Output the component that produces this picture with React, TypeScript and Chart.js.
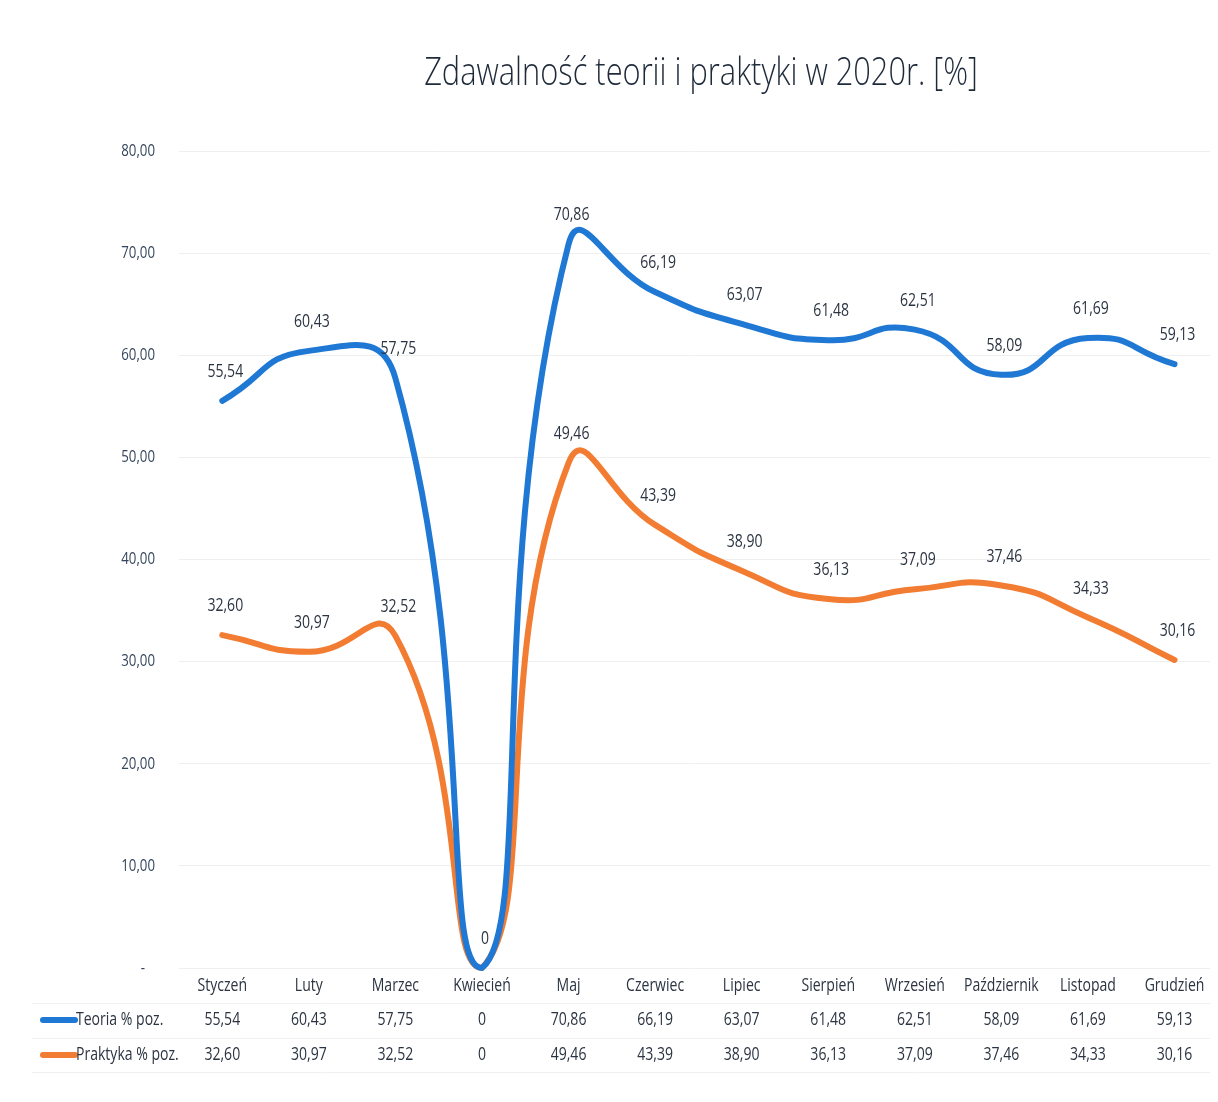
import React, { useEffect, useRef } from "react";
import { Chart, registerables } from "chart.js";

Chart.register(...registerables);

const TITLE = "Zdawalność teorii i praktyki w 2020r. [%]";
const MONTHS = ["Styczeń", "Luty", "Marzec", "Kwiecień", "Maj", "Czerwiec", "Lipiec", "Sierpień", "Wrzesień", "Październik", "Listopad", "Grudzień"];
const TEORIA = [55.54, 60.43, 57.75, 0, 70.86, 66.19, 63.07, 61.48, 62.51, 58.09, 61.69, 59.13];
const PRAKTYKA = [32.6, 30.97, 32.52, 0, 49.46, 43.39, 38.9, 36.13, 37.09, 37.46, 34.33, 30.16];
const SERIES_NAMES = ["Teoria % poz.", "Praktyka % poz."];
const COLORS = ["#1f78d4", "#f27c32"];
const Y_TICKS = [0, 10, 20, 30, 40, 50, 60, 70, 80];

const FONT = '"Open Sans", sans-serif';
const TEXT = "#2b3442";
const SX = 0.78;

const fmt = (v: number) => (v === 0 ? "0" : v.toFixed(2).replace(".", ","));

const W = 1202;
const H = 1086;

function txt(ctx: CanvasRenderingContext2D, s: string, x: number, y: number, align: CanvasTextAlign, sx = SX) {
  ctx.save();
  ctx.translate(x, y);
  ctx.scale(sx, 1);
  ctx.textAlign = align;
  ctx.textBaseline = "middle";
  ctx.fillText(s, 0, 0);
  ctx.restore();
}

export default function App() {
  const ref = useRef<HTMLCanvasElement>(null);
  useEffect(() => {
    if (!ref.current) return;
    const seriesData = [TEORIA, PRAKTYKA];

    const titlePlugin = {
      id: "titleP",
      afterDraw(chart: any) {
        const ctx = chart.ctx;
        ctx.save();
        ctx.fillStyle = "#1e2a3a";
        ctx.font = `300 39px ${FONT}`;
        txt(ctx, TITLE, 693, 66, "center", 0.79);
        ctx.restore();
      },
    };

    const yLabelPlugin = {
      id: "yLabelsP",
      afterDraw(chart: any) {
        const ctx = chart.ctx;
        const ys = chart.scales.y;
        ctx.save();
        ctx.fillStyle = "#34455c";
        ctx.font = `17px ${FONT}`;
        Y_TICKS.forEach((v) => {
          const y = ys.getPixelForValue(v);
          if (v === 0) txt(ctx, "-", 135, y, "center");
          else txt(ctx, v.toFixed(2).replace(".", ","), 147, y, "right");
        });
        ctx.restore();
      },
    };

    const labelPlugin = {
      id: "labelsP",
      afterDatasetsDraw(chart: any) {
        const ctx = chart.ctx;
        ctx.save();
        ctx.fillStyle = TEXT;
        ctx.font = `18px ${FONT}`;
        chart.data.datasets.forEach((ds: any, di: number) => {
          const meta = chart.getDatasetMeta(di);
          meta.data.forEach((pt: any, i: number) => {
            const v = seriesData[di][i];
            if (v === 0 && di === 1) return;
            txt(ctx, fmt(v), pt.x + 3, pt.y - 29, "center");
          });
        });
        ctx.restore();
      },
    };

    const tablePlugin = {
      id: "tableP",
      afterDraw(chart: any) {
        const ctx = chart.ctx;
        const xs = chart.scales.x;
        ctx.save();
        ctx.strokeStyle = "#f0f0f0";
        ctx.lineWidth = 1;
        [995, 1030, 1064].forEach((y) => {
          ctx.beginPath();
          ctx.moveTo(24, y + 0.5);
          ctx.lineTo(W, y + 0.5);
          ctx.stroke();
        });
        ctx.fillStyle = TEXT;
        ctx.font = `18px ${FONT}`;
        MONTHS.forEach((m, i) => {
          txt(ctx, m, xs.getPixelForValue(i), 978, "center");
        });
        const rows = [1012, 1047];
        seriesData.forEach((arr, si) => {
          const y = rows[si];
          ctx.strokeStyle = COLORS[si];
          ctx.lineWidth = 6;
          ctx.lineCap = "round";
          ctx.beginPath();
          ctx.moveTo(35, y);
          ctx.lineTo(67, y);
          ctx.stroke();
          txt(ctx, SERIES_NAMES[si], 68, y, "left");
          arr.forEach((v, i) => {
            txt(ctx, fmt(v), xs.getPixelForValue(i), y, "center");
          });
        });
        ctx.restore();
      },
    };

    const chart = new Chart(ref.current, {
      type: "line",
      data: {
        datasets: seriesData.map((arr, si) => ({
          label: SERIES_NAMES[si],
          data: arr.map((v, i) => ({ x: i, y: v })),
          borderColor: COLORS[si],
          backgroundColor: COLORS[si],
          borderWidth: 6,
          pointRadius: 0,
          tension: 0.55,
          borderCapStyle: "round",
          borderJoinStyle: "round",
          fill: false,
          clip: false,
        })) as any,
      },
      options: {
        animation: false,
        responsive: false,
        events: [],
        layout: { padding: { top: 143, bottom: 126, left: 0, right: 0 } },
        plugins: {
          legend: { display: false },
          tooltip: { enabled: false },
          title: { display: false },
        },
        scales: {
          x: {
            type: "linear",
            display: false,
            min: -0.5,
            max: 11.41,
          },
          y: {
            min: 0,
            max: 80,
            afterFit(scale: any) {
              scale.width = 171;
            },
            afterBuildTicks(scale: any) {
              scale.ticks = Y_TICKS.map((v) => ({ value: v }));
            },
            border: { display: false },
            grid: { color: "#efefef", lineWidth: 1, drawTicks: false },
            ticks: { display: false },
          },
        },
      } as any,
      plugins: [titlePlugin, yLabelPlugin, labelPlugin, tablePlugin],
    });
    return () => chart.destroy();
  }, []);
  return (
    <div style={{ width: W, height: H }}>
      <canvas ref={ref} width={W} height={H} style={{ display: "block" }} />
    </div>
  );
}
